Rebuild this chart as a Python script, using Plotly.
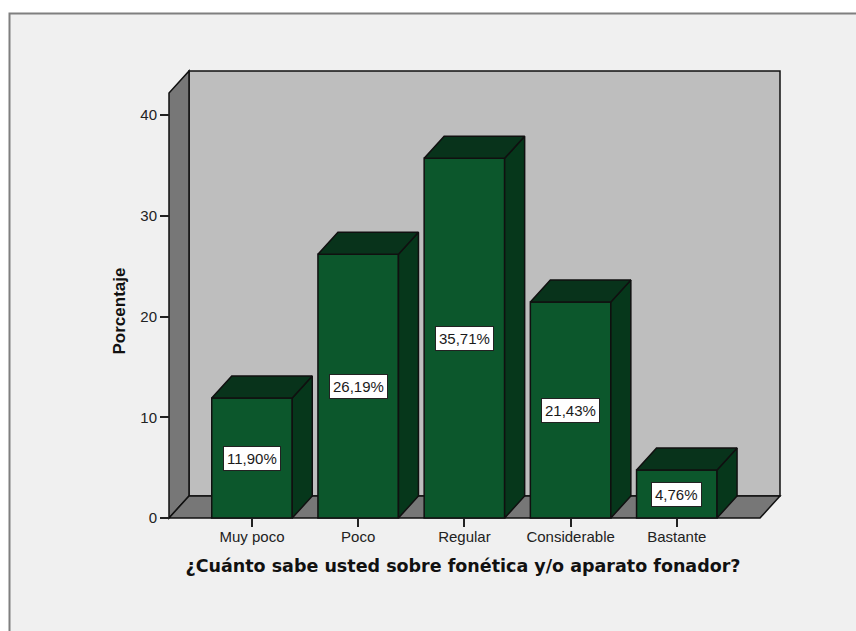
import plotly.graph_objects as go

categories = ["Muy poco", "Poco", "Regular", "Considerable", "Bastante"]
percentages = [11.90, 26.19, 35.71, 21.43, 4.76]
value_labels = ["11,90%", "26,19%", "35,71%", "21,43%", "4,76%"]
y_ticks = [0, 10, 20, 30, 40]

W, H = 856, 631
PX_X0, PX_PER_CAT = 252.0, 106.2
PX_Y0, PX_PER_UNIT = 518.0, 10.075
L, R, T, B = 140, 786, 65, 557   # plot-area box in pixels


def dx(px):
    return (px - PX_X0) / PX_PER_CAT


def dy(py):
    return (PX_Y0 - py) / PX_PER_UNIT


def px(x):
    return (x - L) / (R - L)


def py(y):
    return (B - y) / (B - T)


BAR_W = 80.5 / PX_PER_CAT
DEPTH_X = 20 / PX_PER_CAT
DEPTH_Y = 22 / PX_PER_UNIT
FRONT, SIDE, TOP = "#0c572c", "#06371b", "#08331b"
LINE = "#101010"
x_pos = list(range(len(categories)))

fig = go.Figure()
fig.add_trace(go.Bar(x=x_pos, y=percentages, width=BAR_W, marker=dict(color=FRONT, line=dict(color=LINE, width=1.5)),
                     showlegend=False, hoverinfo="skip"))

for i, v in zip(x_pos, percentages):
    x0, x1 = i - BAR_W / 2, i + BAR_W / 2
    fig.add_trace(go.Scatter(
        x=[x1, x1 + DEPTH_X, x1 + DEPTH_X, x1, x1], y=[0, DEPTH_Y, v + DEPTH_Y, v, 0],
        mode="lines", fill="toself", fillcolor=SIDE, line=dict(color=LINE, width=1.5),
        showlegend=False, hoverinfo="skip"))
    fig.add_trace(go.Scatter(
        x=[x0, x1, x1 + DEPTH_X, x0 + DEPTH_X, x0], y=[v, v, v + DEPTH_Y, v + DEPTH_Y, v],
        mode="lines", fill="toself", fillcolor=TOP, line=dict(color=LINE, width=1.5),
        showlegend=False, hoverinfo="skip"))


def poly(points, fill):
    path = "M " + " L ".join(f"{dx(a)},{dy(b)}" for a, b in points) + " Z"
    return dict(type="path", xref="x", yref="y", path=path, fillcolor=fill,
                line=dict(color=LINE, width=1.5), layer="below")


shapes = [
    dict(type="rect", xref="paper", yref="paper", x0=px(9.5), x1=px(870), y0=py(13.5), y1=py(650),
         fillcolor="#f0f0f0", line=dict(color="#7f7f7f", width=2), layer="below"),
    poly([(189, 71), (780, 71), (780, 496), (189, 496)], "#bebebe"),
    poly([(169, 518), (189, 496), (189, 71), (169, 93)], "#777777"),
    poly([(169, 518), (189, 496), (780, 496), (760, 518)], "#777777"),
]

annotations = [
    dict(x=i, y=v / 2, xref="x", yref="y", text=t, showarrow=False, bgcolor="white", bordercolor="#222222",
         borderwidth=1, borderpad=3, font=dict(family="Liberation Sans", size=15, color="#1a1a1a"))
    for i, v, t in zip(x_pos, percentages, value_labels)
]

fig.update_layout(
    width=W, height=H, autosize=False,
    margin=dict(l=L, r=W - R, t=T, b=H - B, pad=0),
    paper_bgcolor="white", plot_bgcolor="rgba(0,0,0,0)",
    shapes=shapes, annotations=annotations, showlegend=False,
    font=dict(family="Liberation Sans", size=15, color="#222222"),
    xaxis=dict(range=[dx(L), dx(R)], tickmode="array", tickvals=x_pos, ticktext=categories,
               anchor="free", position=py(518), showgrid=False, zeroline=False, showline=False,
               ticks="outside", ticklen=8, tickwidth=1.5, tickcolor="#222222", ticklabelstandoff=-3,
               tickfont=dict(family="Liberation Sans", size=15, color="#222222"),
               title=dict(text="<b>¿Cuánto sabe usted sobre fonética y/o aparato fonador?</b>",
                          font=dict(family="DejaVu Sans", size=17.5, color="#111111"), standoff=15)),
    yaxis=dict(range=[dy(B), dy(T)], tickmode="array", tickvals=y_ticks,
               anchor="free", position=px(169), showgrid=False, zeroline=False, showline=False,
               ticks="outside", ticklen=9, tickwidth=1.5, tickcolor="#222222",
               tickfont=dict(family="Liberation Sans", size=15, color="#222222"),
               title=dict(text="<b>Porcentaje</b>",
                          font=dict(family="Liberation Sans", size=17, color="#111111"), standoff=9)),
)

fig.write_html("out.html", config=dict(displayModeBar=False),
               post_script="document.body.style.margin='0';document.documentElement.style.overflow='hidden';")
